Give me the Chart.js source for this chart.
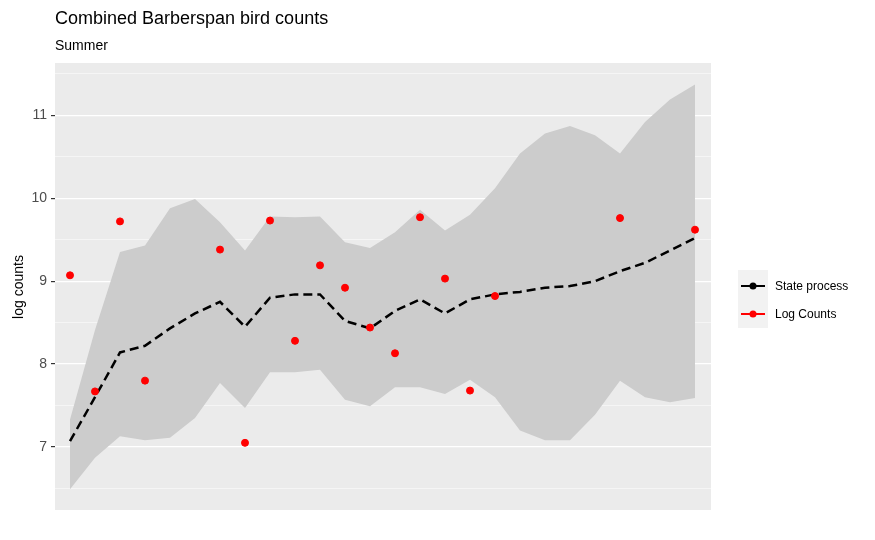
<!DOCTYPE html>
<html><head><meta charset="utf-8">
<script src="https://cdn.jsdelivr.net/npm/chart.js@4"></script>
<style>
body{margin:0;background:#fff;font-family:Arial,"Liberation Sans",sans-serif}
#w{position:relative;width:875px;height:540px}
.t{position:absolute;white-space:nowrap;color:#000}
</style></head><body>
<div id="w"><canvas id="c" width="875" height="540"></canvas>
<div class="t" style="left:55px;top:8px;font-size:18px">Combined Barberspan bird counts</div>
<div class="t" style="left:55px;top:37px;font-size:14px">Summer</div>
<div class="t" style="left:-17px;top:279px;font-size:14px;transform:rotate(-90deg);width:70px;text-align:center">log counts</div>
<div style="position:absolute;left:738px;top:270px;width:30px;height:58px;background:#f2f2f2"></div>
<svg style="position:absolute;left:738px;top:270px" width="30" height="58">
<line x1="3" y1="16" x2="27" y2="16" stroke="#000" stroke-width="2"/><circle cx="15" cy="16" r="3.5" fill="#000"/>
<line x1="3" y1="44" x2="27" y2="44" stroke="red" stroke-width="2"/><circle cx="15" cy="44" r="3.5" fill="red"/>
</svg>
<div class="t" style="left:775px;top:279px;font-size:12px">State process</div>
<div class="t" style="left:775px;top:307px;font-size:12px">Log Counts</div>
</div>
<script>
const stateMean=[7.07,7.6,8.14,8.22,8.43,8.61,8.75,8.45,8.8,8.84,8.84,8.52,8.43,8.64,8.78,8.61,8.78,8.84,8.87,8.92,8.94,9.0,9.12,9.22,9.37,9.52];
const upper=[7.33,8.41,9.35,9.43,9.88,9.99,9.71,9.37,9.78,9.77,9.78,9.47,9.40,9.59,9.86,9.61,9.80,10.12,10.54,10.78,10.87,10.76,10.54,10.92,11.19,11.37];
const lower=[6.49,6.87,7.13,7.08,7.11,7.35,7.77,7.47,7.90,7.90,7.93,7.57,7.49,7.72,7.72,7.64,7.81,7.60,7.20,7.08,7.08,7.39,7.80,7.60,7.54,7.59];
const obsIdx=[0,1,2,3,6,7,8,9,10,11,12,13,14,15,16,17,22,25];
const obsVal=[9.07,7.67,9.72,7.80,9.38,7.05,9.73,8.28,9.19,8.92,8.44,8.13,9.77,9.03,7.68,8.82,9.76,9.62];
const yTicks=[7,8,9,10,11];
const xy=a=>a.map((v,i)=>({x:i,y:v}));
const bg={id:'bg',beforeDraw(c){const a=c.chartArea,x=c.ctx;x.save();x.fillStyle='#ebebeb';x.fillRect(a.left,a.top,a.right-a.left,a.bottom-a.top);x.restore();}};
new Chart(document.getElementById('c'),{
type:'line',
data:{datasets:[
{data:xy(lower),order:4,borderWidth:0,pointRadius:0,fill:false,backgroundColor:'#cccccc'},
{data:xy(upper),order:3,borderWidth:0,pointRadius:0,fill:'-1',backgroundColor:'#cccccc'},
{data:xy(stateMean),order:1,borderColor:'#000',borderWidth:2.5,borderDash:[9,5],pointRadius:0,fill:false},
{data:obsIdx.map((i,k)=>({x:i,y:obsVal[k]})),order:0,showLine:false,pointRadius:3.5,pointBackgroundColor:'red',pointBorderColor:'red'}
]},
options:{responsive:false,animation:false,
layout:{padding:{top:63,bottom:30,left:0,right:164}},
plugins:{legend:{display:false},tooltip:{enabled:false}},
scales:{
x:{type:'linear',min:-0.6,max:25.64,display:false},
y:{min:6.24,max:11.63,afterFit(s){s.width=55;},
afterBuildTicks(s){const t=[];for(let v=6.5;v<=11.5;v+=0.5)t.push({value:v});s.ticks=t;},
ticks:{color:'#4d4d4d',font:{size:14},padding:4,callback:v=>yTicks.includes(v)?String(v):''},
grid:{color:'#fff',lineWidth:c=>c.tick&&Number.isInteger(c.tick.value)?1.2:0.5,
tickColor:c=>c.tick&&Number.isInteger(c.tick.value)?'#333':'rgba(0,0,0,0)',tickLength:4,drawOnChartArea:true},
border:{display:false}}
}},
plugins:[bg]});
</script></body></html>
